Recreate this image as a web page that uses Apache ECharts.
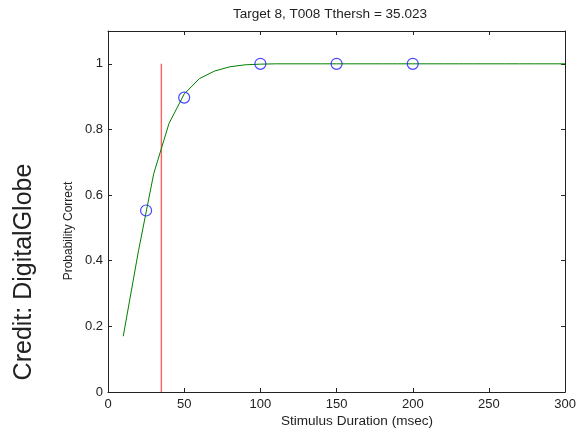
<!DOCTYPE html>
<html><head><meta charset="utf-8">
<script src="https://cdn.jsdelivr.net/npm/echarts@6/dist/echarts.min.js"></script>
<style>html,body{margin:0;padding:0;background:#fff}#c{width:579px;height:431px}</style>
</head><body><div id="c"></div>
<script>
var curveX = [10,20,30,40,50,60,70,80,90,100,110,120,130,140,150,160,170,180,190,200,210,220,230,240,250,260,270,280,290,300];
var curveY = [0.17,0.43,0.665,0.818,0.908,0.955,0.978,0.991,0.997,0.999,1,1,1,1,1,1,1,1,1,1,1,1,1,1,1,1,1,1,1,1];
var obsX = [25,50,100,150,200];
var obsY = [0.553,0.897,1,1,1];
var threshold = 35.023;
var xTicks = [0,50,100,150,200,250,300];
var yTicks = [0,0.2,0.4,0.6,0.8,1];
var titleText = 'Target 8, T008 Tthersh = 35.023';
var xLabel = 'Stimulus Duration (msec)';
var yLabel = 'Probability Correct';
var credit = 'Credit: DigitalGlobe';

var font = '"Liberation Sans", Arial, sans-serif';
var chart = echarts.init(document.getElementById('c'), null, {renderer:'canvas'});
function ax(extra){
  return Object.assign({
    axisLine:{show:true, onZero:false, lineStyle:{color:'#222', width:1}},
    axisTick:{show:true, inside:true, length:4, lineStyle:{color:'#222'}},
    splitLine:{show:false}
  }, extra);
}
chart.setOption({
  animation:false,
  backgroundColor:'#fff',
  grid:{left:108, top:31, width:458, height:361},
  xAxis:[
    ax({type:'value', min:0, max:300, interval:50, position:'bottom',
      axisLabel:{color:'#222', fontSize:13, fontFamily:font, margin:6}}),
    ax({type:'value', min:0, max:300, interval:50, position:'top', axisLabel:{show:false}})
  ],
  yAxis:[
    ax({type:'value', min:0, max:1.1, interval:0.2, position:'left',
      axisLabel:{color:'#222', fontSize:13, fontFamily:font, margin:5, showMaxLabel:false,
        formatter:function(v){var r=Math.round(v*10)/10; return yTicks.indexOf(r)>=0 ? String(r) : '';}}}),
    ax({type:'value', min:0, max:1.1, interval:0.2, position:'right', axisLabel:{show:false},
      axisTick:{show:true, inside:true, length:4, lineStyle:{color:'#222'}}})
  ],
  series:[
    {type:'line', data:curveX.map(function(x,i){return [x,curveY[i]];}), showSymbol:false, symbol:'none',
     lineStyle:{color:'#008000', width:1}, z:2},
    {type:'line', data:[[threshold,0],[threshold,1]], symbol:'none', lineStyle:{color:'#ff6060', width:1.4}, z:1},
    {type:'scatter', data:obsX.map(function(x,i){return [x,obsY[i]];}), symbol:'circle', symbolSize:11,
     itemStyle:{color:'rgba(0,0,0,0)', borderColor:'#1a1aff', borderWidth:1.2}, z:3}
  ],
  graphic:[
    {type:'text', x:330, y:15, scaleX:1.13, style:{text:titleText, font:'12px '+font, fill:'#222', align:'center', verticalAlign:'middle'}},
    {type:'text', x:357, y:422, scaleX:1.13, style:{text:xLabel, font:'12px '+font, fill:'#222', align:'center', verticalAlign:'middle'}},
    {type:'text', rotation:Math.PI/2, x:68, y:231, scaleY:1.13, style:{text:yLabel, font:'12px '+font, fill:'#222', align:'center', verticalAlign:'middle'}},
    {type:'text', rotation:Math.PI/2, x:24, y:272, style:{text:credit, font:'25px '+font, fill:'#222', align:'center', verticalAlign:'middle'}}
  ]
});
</script></body></html>
